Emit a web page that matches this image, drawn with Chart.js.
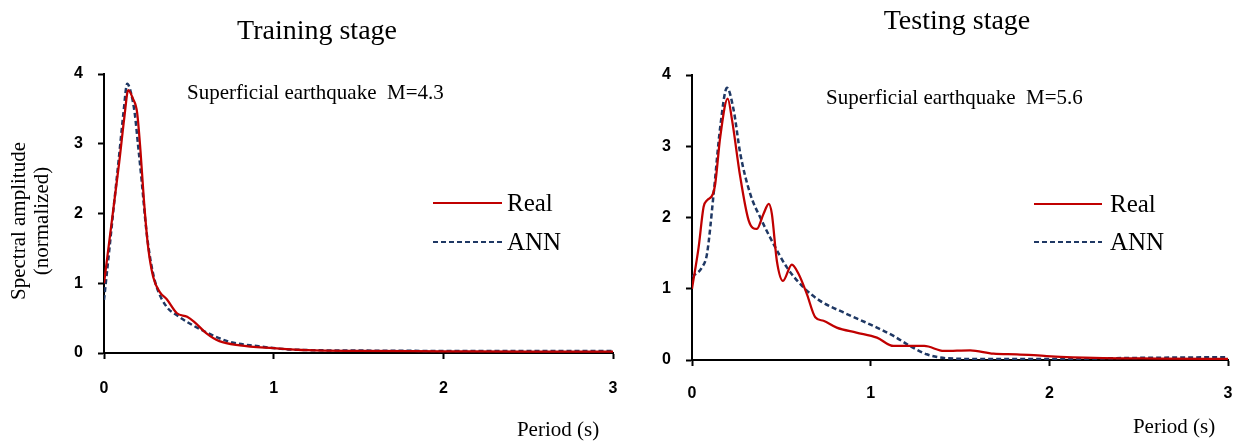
<!DOCTYPE html>
<html><head><meta charset="utf-8">
<script src="https://cdn.jsdelivr.net/npm/chart.js@4.4.0/dist/chart.umd.min.js"></script>
<style>
html,body{margin:0;padding:0;background:#fff;width:1235px;height:441px;overflow:hidden;}
#c1{position:absolute;left:0;top:0;}
#c2{position:absolute;left:620px;top:0;}
</style></head><body>
<canvas id="c1" width="620" height="441"></canvas>
<canvas id="c2" width="615" height="441"></canvas>
<script>
// ---- data ----
const seriesNames = ['Real', 'ANN'];
const xTickLabels = ['0', '1', '2', '3'];
const yTickLabels = ['0', '1', '2', '3', '4'];
const chartTitles = ['Training stage', 'Testing stage'];
const chartNotes = ['Superficial earthquake  M=4.3', 'Superficial earthquake  M=5.6'];
const xAxisTitle = 'Period (s)';
const yAxisTitle = ['Spectral amplitude', '(normalized)'];

// Training stage
const trainPeriodReal = [0, 0.03, 0.06, 0.09, 0.12, 0.143, 0.17, 0.195, 0.215, 0.235, 0.26, 0.29, 0.33, 0.37, 0.43, 0.49, 0.53, 0.6, 0.68, 0.8, 1.0, 1.2, 1.5, 2.0, 2.5, 3.0];
const trainReal       = [1.0, 1.58, 2.16, 2.74, 3.38, 3.77, 3.65, 3.45, 2.9, 2.2, 1.52, 1.09, 0.87, 0.77, 0.57, 0.52, 0.45, 0.29, 0.17, 0.11, 0.07, 0.04, 0.03, 0.025, 0.02, 0.02];
const trainPeriodANN  = [0, 0.03, 0.055, 0.09, 0.115, 0.137, 0.16, 0.182, 0.2, 0.222, 0.25, 0.28, 0.31, 0.37, 0.43, 0.5, 0.6, 0.74, 0.9, 1.1, 1.5, 2.0, 2.5, 3.0];
const trainANN        = [0.76, 1.45, 2.04, 2.85, 3.45, 3.86, 3.72, 3.42, 3.0, 2.47, 1.75, 1.25, 0.95, 0.66, 0.54, 0.43, 0.30, 0.16, 0.10, 0.05, 0.035, 0.03, 0.03, 0.03];

// Testing stage
const testPeriodReal = [0, 0.037, 0.065, 0.084, 0.117, 0.13, 0.158, 0.2, 0.224, 0.27, 0.317, 0.363, 0.4, 0.43, 0.447, 0.475, 0.509, 0.559, 0.596, 0.643, 0.69, 0.736, 0.81, 0.92, 1.035, 1.128, 1.22, 1.3, 1.41, 1.557, 1.687, 1.818, 1.985, 2.25, 2.6, 3.0];
const testReal       = [1.0, 1.58, 2.15, 2.24, 2.33, 2.47, 3.13, 3.67, 3.37, 2.57, 1.96, 1.84, 2.05, 2.19, 2.05, 1.39, 1.11, 1.34, 1.21, 0.925, 0.60, 0.55, 0.455, 0.385, 0.314, 0.197, 0.197, 0.197, 0.127, 0.136, 0.089, 0.08, 0.056, 0.03, 0.02, 0.015];
const testPeriodANN  = [0, 0.056, 0.084, 0.121, 0.158, 0.196, 0.233, 0.27, 0.326, 0.382, 0.456, 0.531, 0.624, 0.717, 0.848, 0.97, 1.035, 1.128, 1.22, 1.314, 1.426, 1.6, 2.0, 2.5, 3.0];
const testANN        = [1.17, 1.30, 1.49, 2.33, 3.27, 3.82, 3.51, 2.90, 2.33, 2.0, 1.63, 1.30, 1.02, 0.83, 0.667, 0.53, 0.455, 0.338, 0.197, 0.08, 0.024, 0.015, 0.015, 0.03, 0.04];

// ---- styles ----
const SERIF = '"Liberation Serif","Times New Roman",Times,serif';
const SANS = '"Liberation Sans",Arial,Helvetica,sans-serif';
const RED = '#C00000';
const NAVY = '#1F3864';

const pts = (xs, ys) => xs.map((x, i) => ({x: x, y: ys[i]}));

const decor = {
  id: 'decor',
  afterDraw(chart, args, o) {
    const ctx = chart.ctx;
    ctx.save();
    ctx.fillStyle = '#000';
    ctx.font = '28px ' + SERIF;
    ctx.textAlign = 'center';
    ctx.textBaseline = 'alphabetic';
    ctx.fillText(o.title, o.titleX, o.titleY);
    ctx.font = '21px ' + SERIF;
    ctx.textAlign = 'left';
    ctx.fillText(o.note, o.noteX, o.noteY);
    chart.data.datasets.forEach((ds, i) => {
      const y = o.legY[i];
      ctx.beginPath();
      ctx.strokeStyle = ds.borderColor;
      ctx.lineWidth = 2;
      ctx.setLineDash(ds.borderDash || []);
      ctx.moveTo(o.legX1, y);
      ctx.lineTo(o.legX2, y);
      ctx.stroke();
      ctx.setLineDash([]);
      ctx.font = '25px ' + SERIF;
      ctx.textAlign = 'left';
      ctx.textBaseline = 'middle';
      ctx.fillText(ds.label, o.legTX, y + 1);
    });
    ctx.font = '21px ' + SERIF;
    ctx.textAlign = 'center';
    ctx.textBaseline = 'middle';
    ctx.fillText(xAxisTitle, o.xtX, o.xtY);
    if (o.yTitle) {
      ctx.font = '21px ' + SERIF;
      o.ytX.forEach((x, i) => {
        ctx.save();
        ctx.translate(x, o.ytY);
        ctx.rotate(-Math.PI / 2);
        ctx.textAlign = 'center';
        ctx.textBaseline = 'middle';
        ctx.fillText(yAxisTitle[i], 0, 0);
        ctx.restore();
      });
    }
    ctx.restore();
  }
};

function makeScales(yW, xH, xPad) {
  const tickFont = {family: SANS, size: 16, weight: 'bold'};
  const grid = {display: true, drawOnChartArea: false, drawTicks: true, tickLength: 6, tickWidth: 2, tickColor: '#000'};
  const border = {display: true, color: '#000', width: 2};
  return {
    x: {
      type: 'linear', min: 0, max: 3,
      afterFit: s => { s.height = xH; s.paddingLeft = 0; s.paddingRight = 0; },
      ticks: {stepSize: 1, padding: xPad, color: '#000', font: tickFont, maxRotation: 0,
        callback: v => xTickLabels[Math.round(v)]},
      grid: grid, border: border
    },
    y: {
      type: 'linear', min: 0, max: 4,
      afterFit: s => { s.width = yW; s.paddingTop = 0; s.paddingBottom = 0; },
      ticks: {stepSize: 1, padding: 15, color: '#000', font: tickFont,
        callback: v => yTickLabels[Math.round(v)]},
      grid: grid, border: border
    }
  };
}

function makeDatasets(px1, y1, px2, y2) {
  return [
    {label: seriesNames[0], data: pts(px1, y1), borderColor: RED, borderWidth: 2.25,
     pointRadius: 0, fill: false, cubicInterpolationMode: 'monotone'},
    {label: seriesNames[1], data: pts(px2, y2), borderColor: NAVY, borderWidth: 2.5, borderDash: [5, 3],
     pointRadius: 0, fill: false, cubicInterpolationMode: 'monotone'}
  ];
}

function common(scales, padding, decorOpts) {
  return {
    responsive: false, animation: false, devicePixelRatio: 1,
    layout: {padding: padding},
    scales: scales,
    plugins: {legend: {display: false}, tooltip: {enabled: false}, title: {display: false}, decor: decorOpts}
  };
}

new Chart(document.getElementById('c1'), {
  type: 'line',
  data: {datasets: makeDatasets(trainPeriodReal, trainReal, trainPeriodANN, trainANN)},
  options: common(makeScales(104, 88, 20), {top: 74, right: 7, left: 0, bottom: 0}, {
    title: chartTitles[0], titleX: 317, titleY: 39,
    note: chartNotes[0], noteX: 187, noteY: 99,
    legX1: 433, legX2: 502, legTX: 507, legY: [203, 242],
    xtX: 558, xtY: 430,
    yTitle: true, ytX: [19.5, 42.5], ytY: 221
  }),
  plugins: [decor]
});

new Chart(document.getElementById('c2'), {
  type: 'line',
  data: {datasets: makeDatasets(testPeriodReal, testReal, testPeriodANN, testANN)},
  options: common(makeScales(72, 81, 18), {top: 75, right: 7, left: 0, bottom: 0}, {
    title: chartTitles[1], titleX: 337, titleY: 29,
    note: chartNotes[1], noteX: 206, noteY: 104,
    legX1: 414, legX2: 482, legTX: 490, legY: [204, 242],
    xtX: 554, xtY: 427,
    yTitle: false
  }),
  plugins: [decor]
});
</script>
</body></html>
